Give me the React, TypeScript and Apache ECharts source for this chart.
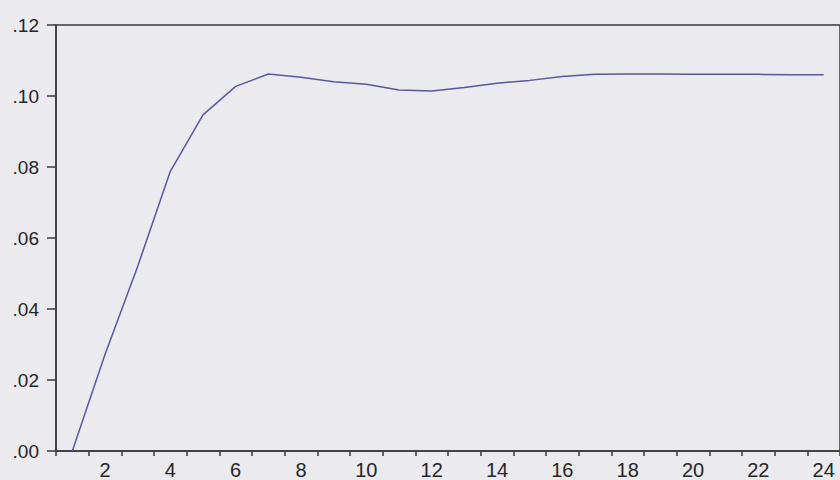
import React, { useEffect, useRef } from "react";
import * as echarts from "echarts";

const categories: string[] = Array.from({ length: 24 }, (_, i) => String(i + 1));
const values: number[] = [
  0.0, 0.0272, 0.052, 0.0788, 0.0947, 0.1027, 0.1062, 0.1053, 0.104, 0.1033,
  0.1017, 0.1014, 0.1024, 0.1036, 0.1044, 0.1055, 0.1061, 0.1062, 0.1062, 0.1061,
  0.1061, 0.1061, 0.106, 0.106,
];
const yMin = 0;
const yMax = 0.12;
const yInterval = 0.02;

export default function App() {
  const ref = useRef<HTMLDivElement>(null);
  useEffect(() => {
    if (!ref.current) return;
    const chart = echarts.init(ref.current, undefined, { renderer: "svg" });
    const axisColor = "#3a3a3a";
    const font = "Liberation Sans, Arial, sans-serif";
    chart.setOption({
      animation: false,
      backgroundColor: "#eaeaef",
      grid: {
        left: 56,
        top: 25,
        width: 785,
        bottom: 28,
        show: true,
        borderColor: axisColor,
        borderWidth: 1.5,
        backgroundColor: "transparent",
      },
      xAxis: {
        type: "category",
        data: categories,
        boundaryGap: true,
        axisLine: { show: true, lineStyle: { color: axisColor, width: 1.5 } },
        axisTick: { show: true, interval: 0, length: 5, lineStyle: { color: axisColor, width: 1.5 } },
        axisLabel: {
          color: "#262626",
          fontFamily: font,
          fontSize: 20,
          margin: 9,
          interval: (index: number) => index % 2 === 1,
        },
        splitLine: { show: false },
      },
      yAxis: {
        type: "value",
        min: yMin,
        max: yMax,
        interval: yInterval,
        axisLine: { show: true, lineStyle: { color: axisColor, width: 1.5 } },
        axisTick: { show: true, length: 9, lineStyle: { color: axisColor, width: 1.5 } },
        axisLabel: {
          color: "#262626",
          fontFamily: font,
          fontSize: 19,
          margin: 17,
          verticalAlign: "middle",
          padding: [0, 0, 3, 0],
          formatter: (v: number) => v.toFixed(2).replace(/^0/, ""),
        },
        splitLine: { show: false },
      },
      series: [
        {
          type: "line",
          data: values,
          symbol: "none",
          lineStyle: { color: "#5858a0", width: 1.5 },
        },
      ],
    });
    return () => chart.dispose();
  }, []);
  return (
    <div
      ref={ref}
      style={{ position: "fixed", left: 0, top: 0, width: 840, height: 480 }}
    />
  );
}
